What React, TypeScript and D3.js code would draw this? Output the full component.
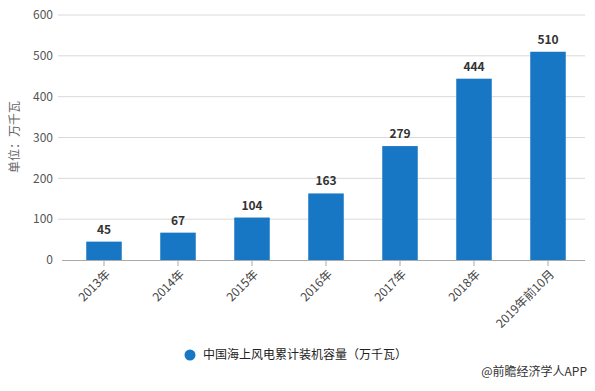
import { scaleBand, scaleLinear } from "d3";

const WIDTH = 595;
const HEIGHT = 391;
const MARGIN = { top: 15, right: 10, bottom: 131, left: 67 };

const categories = ["2013年", "2014年", "2015年", "2016年", "2017年", "2018年", "2019年前10月"];
const capacity = [45, 67, 104, 163, 279, 444, 510];
const yTicks = [0, 100, 200, 300, 400, 500, 600];

const BAR_COLOR = "#1877c4";
const FONT = "'Noto Sans CJK SC', 'Noto Sans', sans-serif";

export default function App() {
  const xScale = scaleBand<string>()
    .domain(categories)
    .range([MARGIN.left, WIDTH - MARGIN.right])
    .paddingInner(0.52)
    .paddingOuter(0.26);
  const yScale = scaleLinear()
    .domain([0, 600])
    .range([HEIGHT - MARGIN.bottom, MARGIN.top]);

  const baseY = yScale(0);

  return (
    <svg
      width={WIDTH}
      height={HEIGHT}
      viewBox={`0 0 ${WIDTH} ${HEIGHT}`}
      style={{ position: "absolute", left: 0, top: 0, background: "#fff", fontFamily: FONT }}
    >
      {/* grid + y labels */}
      {yTicks.map((t) => (
        <g key={t}>
          {t > 0 && (
            <line x1={58} x2={WIDTH - MARGIN.right} y1={yScale(t)} y2={yScale(t)} stroke="#d9d9d9" strokeWidth={1} />
          )}
          <text x={53} y={yScale(t)} dy="0.35em" textAnchor="end" fontSize={12} fill="#555">
            {t}
          </text>
        </g>
      ))}

      <text
        transform={`translate(19, ${137}) rotate(-90)`}
        textAnchor="middle"
        fontSize={12}
        fill="#666"
      >
        单位：万千瓦
      </text>

      {/* bars */}
      {categories.map((c, i) => {
        const x = xScale(c) ?? 0;
        const y = yScale(capacity[i]);
        return (
          <g key={c}>
            <rect x={x} y={y} width={xScale.bandwidth()} height={baseY - y} fill={BAR_COLOR} />
            <text
              x={x + xScale.bandwidth() / 2}
              y={y - 8}
              textAnchor="middle"
              fontSize={12}
              fontWeight="bold"
              fill="#333"
            >
              {capacity[i]}
            </text>
          </g>
        );
      })}

      {/* x axis */}
      <line x1={62} x2={WIDTH - MARGIN.right} y1={baseY + 0.5} y2={baseY + 0.5} stroke="#aaa" />
      {categories.map((c) => {
        const cx = (xScale(c) ?? 0) + xScale.bandwidth() / 2;
        return (
          <g key={c}>
            <line x1={cx} x2={cx} y1={baseY} y2={baseY + 6} stroke="#aaa" />
            <text
              transform={`translate(${cx + 4}, ${baseY + 12}) rotate(-45)`}
              textAnchor="end"
              dy="0.35em"
              fontSize={12}
              fill="#444"
            >
              {c}
            </text>
          </g>
        );
      })}

      {/* legend */}
      <circle cx={190} cy={355} r={5.5} fill={BAR_COLOR} />
      <text x={203} y={355} dy="0.35em" fontSize={12} fill="#222">
        中国海上风电累计装机容量（万千瓦）
      </text>

      <text x={587} y={372} dy="0.35em" textAnchor="end" fontSize={12} fill="#333">
        @前瞻经济学人APP
      </text>
    </svg>
  );
}
